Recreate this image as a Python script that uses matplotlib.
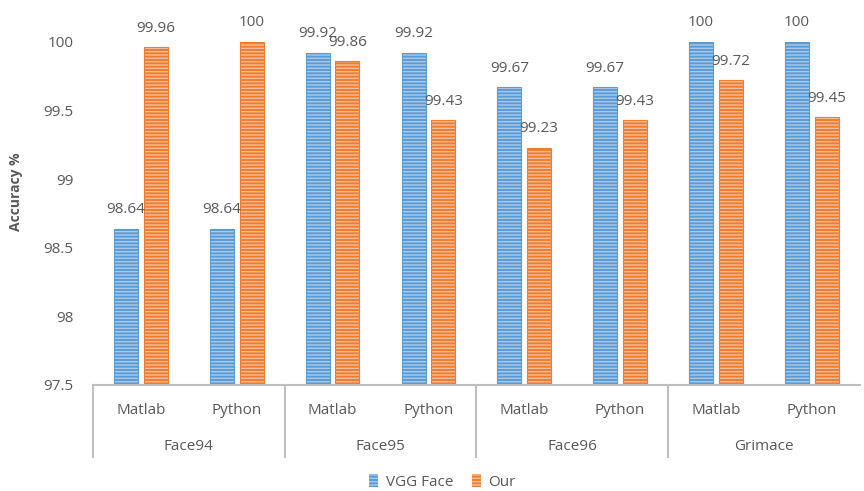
import numpy as np
import matplotlib.pyplot as plt

plt.rcParams['font.family'] = ['Open Sans', 'DejaVu Sans']

groups = ['Face94', 'Face95', 'Face96', 'Grimace']
tools = ['Matlab', 'Python']
vgg = [98.64, 98.64, 99.92, 99.92, 99.67, 99.67, 100, 100]
our = [99.96, 100, 99.86, 99.43, 99.23, 99.43, 99.72, 99.45]
vgg_lbl = ['98.64', '98.64', '99.92', '99.92', '99.67', '99.67', '100', '100']
our_lbl = ['99.96', '100', '99.86', '99.43', '99.23', '99.43', '99.72', '99.45']

blue = '#5B9BD5'
blue_l = '#A9CBEB'
orange = '#ED7D31'
orange_l = '#F6BE98'
txt = '#595959'
grey = '#BFBFBF'

fig = plt.figure(figsize=(8.64, 4.91), dpi=100)
ax = fig.add_axes([0.1076, 0.216, 0.8874, 0.6985])

x = np.arange(len(vgg))
w = 0.25
off = 0.155
base = 97.5


def hatched(xs, vals, face, light):
    h = [v - base for v in vals]
    ax.bar(xs, h, w, bottom=base, color=face, edgecolor=light, hatch='-----', linewidth=0)
    ax.bar(xs, h, w, bottom=base, color='none', edgecolor=face, linewidth=0.8)


plt.rcParams['hatch.linewidth'] = 1.0
hatched(x - off, vgg, blue, blue_l)
hatched(x + off, our, orange, orange_l)

for i in range(len(x)):
    ax.text(x[i] - off, vgg[i] + 0.085, vgg_lbl[i], ha='center', va='bottom',
            fontsize=11, color=txt, clip_on=False)
    ax.text(x[i] + off, our[i] + 0.085, our_lbl[i], ha='center', va='bottom',
            fontsize=11, color=txt, clip_on=False)

ax.set_xlim(-0.5, len(x) - 0.5)
ax.set_ylim(97.5, 100)
ax.set_yticks([97.5, 98, 98.5, 99, 99.5, 100])
ax.set_yticklabels(['97.5', '98', '98.5', '99', '99.5', '100'])
ax.tick_params(axis='y', length=0, pad=14, labelsize=11, labelcolor=txt)
ax.set_xticks([])
for s in ['top', 'right', 'left']:
    ax.spines[s].set_visible(False)
ax.spines['bottom'].set_color(grey)
ax.spines['bottom'].set_linewidth(1.5)
fig.text(0.019, 0.61, 'Accuracy %', rotation=90, ha='center', va='center',
         fontsize=10, fontweight='bold', color=txt)

# two-level category axis
tr = ax.get_xaxis_transform()
for i in range(len(x)):
    ax.text(x[i], -0.075, tools[i % 2], transform=tr, ha='center', va='center',
            fontsize=11, color=txt)
for g in range(len(groups)):
    ax.text(2 * g + 0.5, -0.18, groups[g], transform=tr, ha='center', va='center',
            fontsize=11, color=txt)
    ax.plot([2 * g - 0.5, 2 * g - 0.5], [0, -0.21], transform=tr, color=grey,
            linewidth=1.5, clip_on=False)

handles = [plt.Rectangle((0, 0), 1, 1, facecolor=blue, edgecolor=blue_l, hatch='-----', linewidth=0),
           plt.Rectangle((0, 0), 1, 1, facecolor=orange, edgecolor=orange_l, hatch='-----', linewidth=0)]
fig.legend(handles, ['VGG Face', 'Our'], loc='lower center', bbox_to_anchor=(0.512, -0.025),
           ncol=2, frameon=False, fontsize=11, labelcolor=txt, handlelength=0.6,
           handleheight=0.9, handletextpad=0.5, columnspacing=1.2)

fig.savefig('out.png', dpi=100)
